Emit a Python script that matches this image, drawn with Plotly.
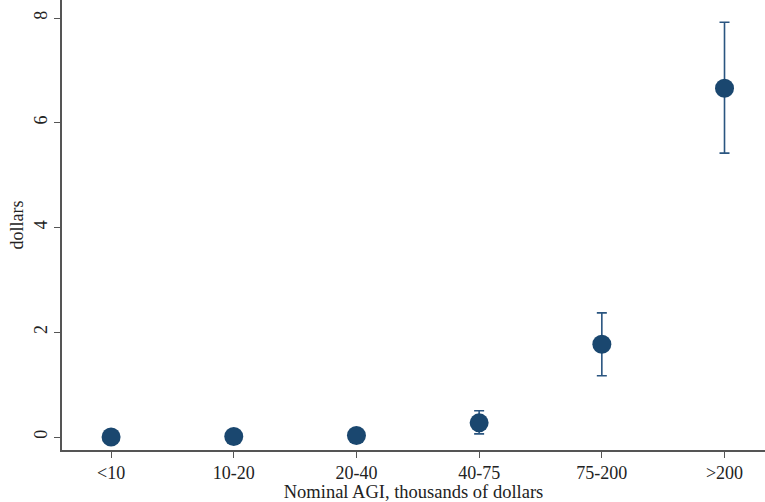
import plotly.graph_objects as go

categories = ["<10", "10-20", "20-40", "40-75", "75-200", ">200"]
values = [0.0, 0.01, 0.03, 0.27, 1.77, 6.66]
upper = [0.0, 0.0, 0.0, 0.50, 2.37, 7.92]
lower = [0.0, 0.0, 0.0, 0.06, 1.17, 5.42]
y_ticks = [0, 2, 4, 6, 8]

color = "#1a476f"
idx = list(range(len(categories)))
err_plus = [u - v if u > v else 0 for u, v in zip(upper, values)]
err_minus = [v - l if u > v else 0 for u, v, l in zip(upper, values, lower)]

fig = go.Figure()
fig.add_trace(go.Scatter(
    x=idx, y=values, mode="markers",
    marker=dict(size=19, color=color),
    error_y=dict(type="data", symmetric=False, array=err_plus, arrayminus=err_minus,
                 color="#2a5580", thickness=1.6, width=5, visible=True),
    showlegend=False,
))

font = "Liberation Serif, Times New Roman, serif"
fig.update_layout(
    width=765, height=502,
    margin=dict(l=62, r=0, t=0, b=52, autoexpand=False),
    paper_bgcolor="white", plot_bgcolor="white",
    font=dict(family=font, size=18, color="#222222"),
    xaxis=dict(
        range=[-0.4, 5.33], tickmode="array", tickvals=idx, ticktext=categories,
        showline=True, linecolor="#555555", linewidth=1.5, ticks="outside",
        ticklen=6, tickcolor="#555555", showgrid=False, zeroline=False,
        tickfont=dict(size=18), automargin=False,
        title=dict(text="Nominal AGI, thousands of dollars", standoff=0, font=dict(size=18.5)),
    ),
    yaxis=dict(
        range=[-0.248, 8.344], tickmode="array", tickvals=y_ticks,
        ticktext=[str(t) for t in y_ticks], tickangle=-90,
        showline=True, linecolor="#555555", linewidth=1.5, ticks="outside",
        ticklen=6, tickcolor="#555555", showgrid=False, zeroline=False,
        tickfont=dict(size=18), automargin=False,
        title=dict(text="dollars", standoff=3, font=dict(size=18)),
    ),
)
fig.write_html("out.html", config={"displayModeBar": False},
               post_script="document.body.style.margin='0';document.body.style.overflow='hidden';")
